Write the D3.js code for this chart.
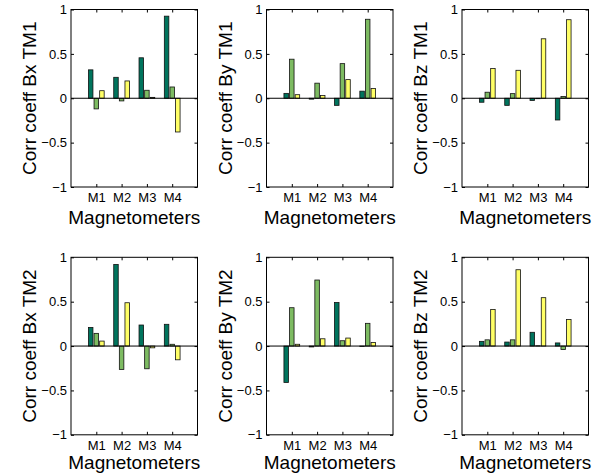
<!DOCTYPE html>
<html>
<head>
<meta charset="utf-8">
<script src="https://cdn.jsdelivr.net/npm/d3@7"></script>
<style>
  body { margin: 0; background: #fff; }
  svg { font-family: "Liberation Sans", Arial, Helvetica, sans-serif; }
</style>
</head>
<body>
<svg width="594" height="476"></svg>
<script>
// magnetometer groups and y ticks
const categories = ["M1", "M2", "M3", "M4"];
const yTicks = [-1, -0.5, 0, 0.5, 1];
const seriesColors = ["#00745d", "#7dbb62", "#ffff66"];

// one row per magnetometer: [dark, light, yellow]
const bxTM1 = [[0.32, -0.12, 0.085], [0.236, -0.03, 0.195], [0.456, 0.09, 0.01], [0.925, 0.127, -0.38]];
const byTM1 = [[0.055, 0.44, 0.04], [-0.01, 0.17, 0.03], [-0.08, 0.39, 0.21], [0.08, 0.89, 0.11]];
const bzTM1 = [[-0.045, 0.068, 0.335], [-0.08, 0.052, 0.315], [-0.025, -0.005, 0.67], [-0.245, 0.02, 0.885]];
const bxTM2 = [[0.21, 0.143, 0.056], [0.92, -0.263, 0.488], [0.237, -0.256, -0.02], [0.245, 0.02, -0.155]];
const byTM2 = [[-0.41, 0.432, 0.02], [-0.01, 0.744, 0.082], [0.49, 0.06, 0.09], [-0.005, 0.256, 0.04]];
const bzTM2 = [[0.053, 0.07, 0.413], [0.045, 0.07, 0.86], [0.155, 0.003, 0.545], [0.035, -0.04, 0.3]];

const panels = [
  { label: "Corr coeff Bx TM1", data: bxTM1, col: 0, row: 0 },
  { label: "Corr coeff By TM1", data: byTM1, col: 1, row: 0 },
  { label: "Corr coeff Bz TM1", data: bzTM1, col: 2, row: 0 },
  { label: "Corr coeff Bx TM2", data: bxTM2, col: 0, row: 1 },
  { label: "Corr coeff By TM2", data: byTM2, col: 1, row: 1 },
  { label: "Corr coeff Bz TM2", data: bzTM2, col: 2, row: 1 }
];

const lefts = [71, 266.5, 462];
const tops = [9.5, 257.3];
const pw = 126.5, ph = 177.5;
const barStep = 0.222, barW = 0.178;

const svg = d3.select("svg");

panels.forEach(p => {
    const x0 = lefts[p.col], y0 = tops[p.row];
    const x = d3.scaleLinear().domain([0, 5]).range([x0, x0 + pw]);
    const y = d3.scaleLinear().domain([-1, 1]).range([y0 + ph, y0]);
    const g = svg.append("g");

    // bars
    p.data.forEach((grp, i) => {
        grp.forEach((v, j) => {
            const cx = i + 1 + (j - 1) * barStep;
            g.append("rect")
                .attr("x", x(cx - barW / 2))
                .attr("width", x(barW) - x(0))
                .attr("y", y(Math.max(v, 0)))
                .attr("height", Math.abs(y(v) - y(0)))
                .attr("fill", seriesColors[j])
                .attr("stroke", "#111")
                .attr("stroke-width", 0.8);
        });
    });

    // zero line
    g.append("line")
        .attr("x1", x(0)).attr("x2", x(5))
        .attr("y1", y(0)).attr("y2", y(0))
        .attr("stroke", "#000").attr("stroke-width", 1);

    // axes with inward ticks
    const fmt = d3.format("~g");
    g.append("g")
        .attr("transform", `translate(${x0},0)`)
        .call(d3.axisLeft(y).tickValues(yTicks).tickSizeInner(-3).tickSizeOuter(0).tickPadding(4).tickFormat(fmt))
        .call(a => a.select(".domain").remove())
        .call(a => a.selectAll("text").attr("font-size", 13).attr("fill", "#000").attr("font-family", null));
    g.append("g")
        .attr("transform", `translate(${x0 + pw},0)`)
        .call(d3.axisRight(y).tickValues(yTicks).tickSizeInner(-3).tickSizeOuter(0).tickFormat(""))
        .call(a => a.select(".domain").remove());
    g.append("g")
        .attr("transform", `translate(0,${y0 + ph})`)
        .call(d3.axisBottom(x).tickValues([1, 2, 3, 4]).tickSizeInner(-3).tickSizeOuter(0).tickPadding(6)
            .tickFormat((d, i) => categories[i]))
        .call(a => a.select(".domain").remove())
        .call(a => a.selectAll("text").attr("font-size", 13).attr("fill", "#000").attr("font-family", null));
    g.append("g")
        .attr("transform", `translate(0,${y0})`)
        .call(d3.axisTop(x).tickValues([1, 2, 3, 4]).tickSizeInner(-3).tickSizeOuter(0).tickFormat(""))
        .call(a => a.select(".domain").remove());

    // box
    g.append("rect")
        .attr("x", x0).attr("y", y0)
        .attr("width", pw).attr("height", ph)
        .attr("fill", "none").attr("stroke", "#000").attr("stroke-width", 1);

    // labels
    g.append("text")
        .attr("x", x0 + pw / 2).attr("y", y0 + ph + (p.row === 0 ? 37 : 34))
        .attr("text-anchor", "middle").attr("font-size", 19)
        .text("Magnetometers");
    g.append("text")
        .attr("transform", `translate(${x0 - 35},${y0 + ph / 2}) rotate(-90)`)
        .attr("text-anchor", "middle").attr("font-size", 19)
        .text(p.label);
});
</script>
</body>
</html>
